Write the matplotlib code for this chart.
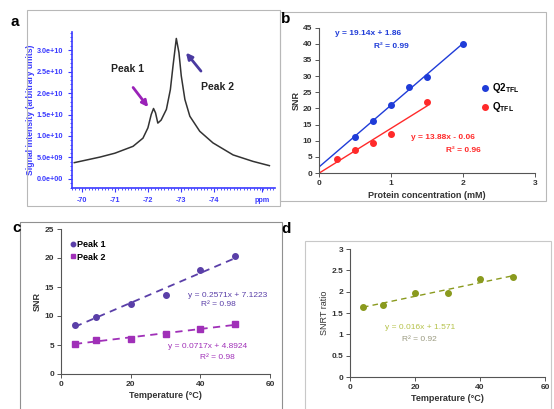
import matplotlib
matplotlib.use("Agg")
import matplotlib.pyplot as plt
from matplotlib.patches import Rectangle
from matplotlib.ticker import MultipleLocator
import numpy as np

plt.rcParams['font.family'] = ['Liberation Sans', 'DejaVu Sans']

# panel a: 19F spectrum
ppm = [-69.77, -70.55, -71.0, -71.55, -71.85, -72.0, -72.1, -72.17, -72.23, -72.3,
       -72.4, -72.56, -72.68, -72.76, -72.86, -72.94, -73.01, -73.12, -73.27, -73.57,
       -73.97, -74.58, -75.18, -75.68]
intensity = [3.8e9, 5.1e9, 6.0e9, 7.6e9, 9.5e9, 11.9e9, 15.0e9, 16.4e9, 15.4e9, 13.0e9,
             13.7e9, 16.2e9, 20.8e9, 26.3e9, 32.7e9, 29.4e9, 24.0e9, 18.5e9, 14.6e9, 11.1e9,
             8.4e9, 5.6e9, 4.1e9, 3.1e9]
ppm_ticks = [-70, -71, -72, -73, -74]

# panel b: SNR vs protein concentration
conc_q2 = [0.5, 0.75, 1.0, 1.25, 1.5, 2.0]
snr_q2 = [11.0, 16.0, 21.2, 26.5, 29.7, 40.0]
conc_q = [0.25, 0.5, 0.75, 1.0, 1.5]
snr_q = [4.3, 7.2, 9.3, 12.0, 22.0]
fit_q2 = (19.14, 1.86)
fit_q = (13.88, -0.06)

# panel c: SNR vs temperature
temp = [4, 10, 20, 30, 40, 50]
snr_peak1 = [8.4, 9.9, 12.1, 13.6, 18.0, 20.3]
snr_peak2 = [5.2, 5.9, 6.1, 6.9, 7.7, 8.6]
fit_peak1 = (0.2571, 7.1223)
fit_peak2 = (0.0717, 4.8924)

# panel d: SNR ratio vs temperature
snr_ratio = [1.65, 1.69, 1.97, 1.96, 2.30, 2.35]
fit_ratio = (0.016, 1.571)

W, H = 554, 409
fig = plt.figure(figsize=(W / 100, H / 100), dpi=100)


def px_axes(x0, y0, x1, y1):
    return fig.add_axes([x0 / W, 1 - y1 / H, (x1 - x0) / W, (y1 - y0) / H])


def frame(x0, y0, x1, y1, color='#b8b8b8'):
    fig.patches.append(Rectangle((x0 / W, 1 - y1 / H), (x1 - x0) / W, (y1 - y0) / H,
                                 transform=fig.transFigure, fill=False,
                                 edgecolor=color, lw=0.8))


# panel frames
frame(27, 10, 280, 206)
frame(280, 12, 546, 201)
frame(20, 222, 282, 412, color='#909090')
frame(305, 241, 551, 412, color='#c8c8c8')

for lab, x, y in [('a', 15, 22), ('b', 286, 19), ('c', 17, 228), ('d', 286, 229)]:
    fig.text(x / W, 1 - y / H, lab, fontsize=11, fontweight='bold', ha='center', va='center')

# ---- panel a ----
blue = '#3a3aff'
ax = px_axes(72, 32, 275, 188)
ax.plot(ppm, intensity, color='#333333', lw=1.1)
ax.set_xlim(-69.7, -75.85)
ax.set_ylim(-2.1e9, 3.42e10)
ax.set_xticks(ppm_ticks + [-75.45])
ax.set_xticklabels([str(t) for t in ppm_ticks] + ['ppm'])
ax.set_yticks([0, 5e9, 1e10, 1.5e10, 2e10, 2.5e10, 3e10])
ax.set_yticklabels(['0.0e+00', '5.0e+09', '1.0e+10', '1.5e+10', '2.0e+10', '2.5e+10', '3.0e+10'])
ax.xaxis.set_minor_locator(MultipleLocator(0.1))
ax.yaxis.set_minor_locator(MultipleLocator(1e9))
ax.tick_params(colors=blue, labelsize=5.2, length=3, width=0.8)
ax.tick_params(which='minor', colors=blue, length=1.5, width=0.6)
for t in ax.get_xticklabels() + ax.get_yticklabels():
    t.set_fontweight('bold')
for s in ['top', 'right']:
    ax.spines[s].set_visible(False)
for s in ['left', 'bottom']:
    ax.spines[s].set_color(blue)
    ax.spines[s].set_linewidth(1.2)
ax.set_ylabel('Signal intensity (arbitrary units)', color=blue, fontsize=6.2, fontweight='bold', labelpad=1)
ax.annotate('', xy=(-72.06, 16.2e9), xytext=(-71.5, 21.8e9),
            arrowprops=dict(arrowstyle='-|>', color='#9a22b8', lw=2, mutation_scale=9))
ax.annotate('', xy=(-73.1, 29.9e9), xytext=(-73.66, 24.6e9),
            arrowprops=dict(arrowstyle='-|>', color='#4a3aa0', lw=2, mutation_scale=9))
ax.text(-71.39, 25.5e9, 'Peak 1', fontsize=7.5, fontweight='bold', ha='center', va='center', color='#222222')
ax.text(-74.1, 21.3e9, 'Peak 2', fontsize=7.5, fontweight='bold', ha='center', va='center', color='#222222')


def style_small(ax):
    for s in ['top', 'right']:
        ax.spines[s].set_visible(False)
    for s in ['left', 'bottom']:
        ax.spines[s].set_color('#555555')
        ax.spines[s].set_linewidth(0.8)
    ax.tick_params(labelsize=6, length=3, width=0.7, color='#555555', pad=2)
    for t in ax.get_xticklabels() + ax.get_yticklabels():
        t.set_fontweight('bold')
        t.set_color('#333333')


# ---- panel b ----
qblue = '#1f3cd8'
qred = '#ff2a2a'
ax = px_axes(319, 27.7, 535, 173)
xl = np.array([0, 2.0])
ax.plot(xl, fit_q2[0] * xl + fit_q2[1], color=qblue, lw=1.0)
xl = np.array([0, 1.5])
ax.plot(xl, fit_q[0] * xl + fit_q[1], color=qred, lw=1.0)
ax.plot(conc_q2, snr_q2, 'o', color=qblue, ms=4, label=r'Q2$_{\mathregular{TFL}}$')
ax.plot(conc_q, snr_q, 'o', color=qred, ms=4, label=r'Q$_{\mathregular{TFL}}$')
ax.set_xlim(0, 3)
ax.set_ylim(0, 45)
ax.set_xticks([0, 1, 2, 3])
ax.set_yticks(range(0, 46, 5))
style_small(ax)
ax.set_xlabel('Protein concentration (mM)', fontsize=6.5, fontweight='bold', color='#333333', labelpad=3)
ax.set_ylabel('SNR', fontsize=6.5, fontweight='bold', color='#333333', labelpad=1)
leg = ax.legend(loc='upper left', bbox_to_anchor=(0.70, 0.69), frameon=False, fontsize=7,
                handletextpad=0.1, handlelength=1.2, labelspacing=0.5)
for t in leg.get_texts():
    t.set_fontweight('bold')
ax.text(0.68, 43.3, 'y = 19.14x + 1.86', fontsize=6, color=qblue, fontweight='bold', ha='center', va='center')
ax.text(1.0, 39.3, 'R² = 0.99', fontsize=6, color=qblue, fontweight='bold', ha='center', va='center')
ax.text(1.72, 11.1, 'y = 13.88x - 0.06', fontsize=6, color=qred, fontweight='bold', ha='center', va='center')
ax.text(2.0, 7.1, 'R² = 0.96', fontsize=6, color=qred, fontweight='bold', ha='center', va='center')

# ---- panel c ----
c1 = '#5a3fa8'
c2 = '#a030b8'
ax = px_axes(61, 229, 270, 374)
xl = np.array([4, 50])
ax.plot(xl, fit_peak1[0] * xl + fit_peak1[1], '--', color=c1, lw=1.3, dashes=(4, 3))
ax.plot(xl, fit_peak2[0] * xl + fit_peak2[1], '--', color=c2, lw=1.3, dashes=(4, 3))
ax.plot(temp, snr_peak1, 'o', color=c1, ms=4, label='Peak 1')
ax.plot(temp, snr_peak2, 's', color=c2, ms=4, label='Peak 2')
ax.set_xlim(0, 60)
ax.set_ylim(0, 25)
ax.set_xticks([0, 20, 40, 60])
ax.set_yticks(range(0, 26, 5))
style_small(ax)
ax.set_xlabel('Temperature (°C)', fontsize=6.5, fontweight='bold', color='#333333', labelpad=2)
ax.set_ylabel('SNR', fontsize=6.5, fontweight='bold', color='#333333', labelpad=2)
leg = ax.legend(loc='upper left', bbox_to_anchor=(0.0, 0.98), frameon=False, fontsize=6.5,
                handletextpad=0.1, handlelength=0.8, labelspacing=0.4, markerscale=0.8)
for t in leg.get_texts():
    t.set_fontweight('bold')
ax.text(47.7, 13.6, 'y = 0.2571x + 7.1223', fontsize=6, color=c1, ha='center', va='center')
ax.text(45.1, 11.9, 'R² = 0.98', fontsize=6, color=c1, ha='center', va='center')
ax.text(42.2, 4.66, 'y = 0.0717x + 4.8924', fontsize=6, color=c2, ha='center', va='center')
ax.text(44.8, 2.9, 'R² = 0.98', fontsize=6, color=c2, ha='center', va='center')

# ---- panel d ----
g = '#8a9a1e'
ax = px_axes(350, 249, 545, 377)
xl = np.array([4, 50])
ax.plot(xl, fit_ratio[0] * xl + fit_ratio[1], '--', color=g, lw=1.0, dashes=(4, 3))
ax.plot(temp, snr_ratio, 'o', color=g, ms=4)
ax.set_xlim(0, 60)
ax.set_ylim(0, 3)
ax.set_xticks([0, 20, 40, 60])
ax.set_yticks([0, 0.5, 1, 1.5, 2, 2.5, 3])
ax.set_yticklabels(['0', '0.5', '1', '1.5', '2', '2.5', '3'])
style_small(ax)
ax.set_xlabel('Temperature (°C)', fontsize=6.5, fontweight='bold', color='#333333', labelpad=2)
ax.set_ylabel('SNRT ratio', fontsize=6.5, color='#333333', labelpad=2)
ax.text(21.5, 1.15, 'y = 0.016x + 1.571', fontsize=6, color='#b5c24a', ha='center', va='center')
ax.text(21.5, 0.87, 'R² = 0.92', fontsize=6, color='#9a9a80', ha='center', va='center')

fig.savefig('out.png', dpi=100)
